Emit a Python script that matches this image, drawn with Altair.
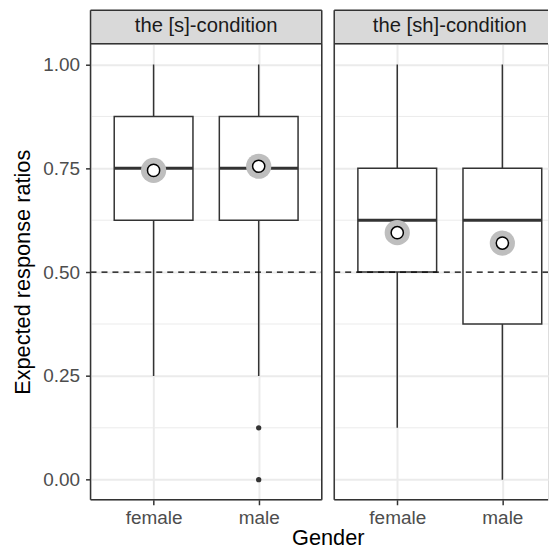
import altair as alt
import pandas as pd

# ---------------- data ----------------
conditions = ["the [s]-condition", "the [sh]-condition"]
genders = ["female", "male"]

# box statistics, one row per condition, one value per gender
whisker_low = [[0.25, 0.25], [0.125, 0.0]]
box_q1 = [[0.625, 0.625], [0.5, 0.375]]
box_median = [[0.75, 0.75], [0.625, 0.625]]
box_q3 = [[0.875, 0.875], [0.75, 0.75]]
whisker_high = [[1.0, 1.0], [1.0, 1.0]]
group_mean = [[0.745, 0.755], [0.595, 0.57]]

# outliers
outlier_condition = ["the [s]-condition", "the [s]-condition"]
outlier_gender = ["male", "male"]
outlier_value = [0.125, 0.0]

y_breaks = [0.0, 0.25, 0.5, 0.75, 1.0]
y_minor_breaks = [0.125, 0.375, 0.625, 0.875]
chance_level = [0.5]

# ---------------- styling ----------------
PANEL_W = 232
RIGHT_W = 214.5
PANEL_H = 457.5
STRIP_H = 33.75
Y_DOMAIN = [-0.0484, 1.05]
FONT = "Liberation Sans"
DARK = "#333333"
GRID = "#EBEBEB"
LABEL_SIZE = 19
STRIP_SIZE = 20.3
TITLE_SIZE = 21.8
BOX_W = 79


def panel(i, width, first):
    cond = conditions[i]
    boxes = pd.DataFrame({
        "gender": genders,
        "low": whisker_low[i],
        "q1": box_q1[i],
        "median": box_median[i],
        "q3": box_q3[i],
        "high": whisker_high[i],
        "mean": group_mean[i],
    })
    outl = pd.DataFrame({
        "gender": [g for c, g in zip(outlier_condition, outlier_gender) if c == cond],
        "value": [v for c, v in zip(outlier_condition, outlier_value) if c == cond],
    })

    xaxis_kw = dict(
        labelFont=FONT, labelFontSize=LABEL_SIZE, labelColor="#4D4D4D", labelAngle=0,
        labelPadding=4, tickColor=DARK, tickWidth=1.5, tickSize=5, domain=False,
        grid=True, gridColor=GRID, gridWidth=2,
    )
    if first:
        xaxis_kw.update(title="Gender", titleX=238, titleAlign="center", titleFont=FONT,
                        titleFontSize=TITLE_SIZE, titleColor="black",
                        titleFontWeight="normal", titlePadding=0)
    else:
        xaxis_kw.update(title=None)

    yaxis_kw = dict(values=y_breaks, grid=True, gridColor=GRID, gridWidth=2, domain=False)
    if first:
        yaxis_kw.update(format=".2f", labelFont=FONT, labelFontSize=LABEL_SIZE,
                        labelColor="#4D4D4D", labelPadding=6, tickColor=DARK,
                        tickWidth=1.5, tickSize=5, title="Expected response ratios",
                        titleFont=FONT, titleFontSize=TITLE_SIZE, titleColor="black",
                        titleFontWeight="normal", titlePadding=8)
    else:
        yaxis_kw.update(labels=False, ticks=False, title=None)

    if first:
        xscale = alt.Scale(type="point", domain=genders, padding=0.6)
    else:
        # same step and offset as the left panel, but a narrower (cut-off) view
        xscale = alt.Scale(type="point", domain=genders, padding=0.517, align=0.58)
    yscale = alt.Scale(domain=Y_DOMAIN, nice=False, zero=False)

    def X():
        return alt.X("gender:N", scale=xscale, axis=alt.Axis(**xaxis_kw))

    def Y(field):
        return alt.Y(f"{field}:Q", scale=yscale, axis=alt.Axis(**yaxis_kw))

    minor = alt.Chart(pd.DataFrame({"minor": y_minor_breaks})).mark_rule(
        color=GRID, strokeWidth=1
    ).encode(y=Y("minor"), x=alt.value(0), x2=alt.value(width))

    base = alt.Chart(boxes)
    whisk = base.mark_rule(color=DARK, strokeWidth=1.5, opacity=1).encode(
        x=X(), y=Y("low"), y2="high")
    box = base.mark_bar(size=BOX_W, fill="white", stroke=DARK, strokeWidth=1.5,
                        opacity=1).encode(x=X(), y=Y("q1"), y2="q3")
    med = base.mark_tick(color=DARK, thickness=3, size=BOX_W, opacity=1).encode(
        x=X(), y=Y("median"))
    layers = [minor, whisk, box, med]
    if len(outl):
        pts = alt.Chart(outl).mark_circle(size=28, color=DARK, opacity=1).encode(
            x=X(), y=Y("value"))
        layers.append(pts)
    chance = alt.Chart(pd.DataFrame({"level": chance_level})).mark_rule(
        color="black", strokeDash=[6, 5], strokeWidth=1.4
    ).encode(y=Y("level"), x=alt.value(0), x2=alt.value(width))
    mean_bg = base.mark_circle(size=640, color="#BEBEBE", opacity=1).encode(
        x=X(), y=Y("mean"))
    mean_fg = base.mark_point(shape="circle", filled=True, fill="white", stroke="black",
                              strokeWidth=1.5, size=150, opacity=1).encode(
        x=X(), y=Y("mean"))
    layers += [chance, mean_bg, mean_fg]

    strip_df = pd.DataFrame({"label": [cond]})
    strip = alt.Chart(strip_df).mark_rect(fill="#D9D9D9").encode(
        x=alt.value(0), x2=alt.value(width), y=alt.value(-STRIP_H), y2=alt.value(0))
    strip_txt = alt.Chart(strip_df).mark_text(
        font=FONT, fontSize=STRIP_SIZE, color="#1A1A1A", align="center", baseline="middle"
    ).encode(x=alt.value(PANEL_W / 2), y=alt.value(-STRIP_H / 2 - 1), text="label:N")
    layers += [strip, strip_txt]

    # frame lines (panel border and strip border)
    frame_df = pd.DataFrame({"k": [0]})
    hlines = [-STRIP_H, 0, PANEL_H]
    for yy in hlines:
        layers.append(alt.Chart(frame_df).mark_rule(color=DARK, strokeWidth=1.5).encode(
            x=alt.value(0), x2=alt.value(width), y=alt.value(yy)))
    vlines = [0, width] if first else [0]
    for xx in vlines:
        layers.append(alt.Chart(frame_df).mark_rule(color=DARK, strokeWidth=1.5).encode(
            x=alt.value(xx), y=alt.value(-STRIP_H), y2=alt.value(PANEL_H)))

    return alt.layer(*layers).properties(width=width, height=PANEL_H)


left = panel(0, PANEL_W, True)
right = panel(1, RIGHT_W, False)

chart = alt.hconcat(left, right, spacing=12.5, bounds="flush").properties(
    padding={"left": 3.8, "top": 0, "right": 0, "bottom": 0}
).configure_view(stroke=None).configure(font=FONT)

chart.save("out.html", embed_options={"renderer": "svg", "actions": False})
